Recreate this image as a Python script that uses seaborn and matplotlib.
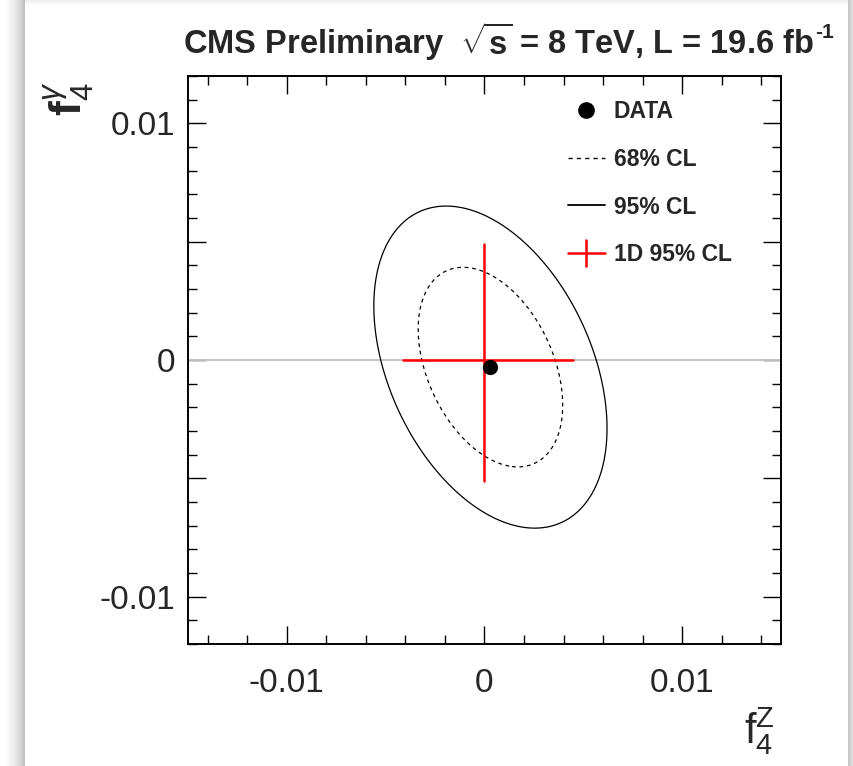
import numpy as np
import matplotlib
matplotlib.use("Agg")
import matplotlib.pyplot as plt
import seaborn as sns
from matplotlib.ticker import MultipleLocator, FuncFormatter
from matplotlib.lines import Line2D

# ---------------- data ----------------
best_fit_f4z = [0.0003]
best_fit_f4g = [-0.0003]
sigma_f4z = 0.00241          # 1-sigma width along f4Z
sigma_f4g = 0.00278          # 1-sigma width along f4gamma
corr = -0.38                 # correlation between the two couplings
cl_levels = [2.30, 5.99]     # delta chi2 for 2D 68% and 95% CL
cl_labels = ["68% CL", "95% CL"]
interval_f4z = [-0.0041, 0.0045]   # 1D 95% CL on f4Z
interval_f4g = [-0.0051, 0.0049]   # 1D 95% CL on f4gamma
x_limits = [-0.015, 0.015]
y_limits = [-0.012, 0.012]
title_main = r"CMS Preliminary  $\sqrt{\mathbf{s}}$ = 8 TeV, L = 19.6 fb"
title_sup = "-1"

# ---------------- style ----------------
sns.set_theme(style="ticks")
plt.rcParams["font.family"] = ["Liberation Sans", "DejaVu Sans"]
plt.rcParams["mathtext.fontset"] = "custom"
plt.rcParams["mathtext.rm"] = "Liberation Sans"
plt.rcParams["mathtext.it"] = "Liberation Sans:italic"
plt.rcParams["mathtext.bf"] = "Liberation Sans:bold"

W, H = 854, 766
fig = plt.figure(figsize=(W / 100, H / 100), dpi=100)
fig.patch.set_facecolor("white")

# soft card shadow like the reference screenshot
bg = fig.add_axes([0, 0, 1, 1], zorder=-10)
img = np.ones((H, W))
cols = np.arange(W)
left = np.clip(1 - 0.25 * (cols / 24.0) ** 2, 0.75, 1)
img[:, :25] = left[:25]
img[:, 848:] = np.linspace(0.78, 0.9, W - 848)
img[:6, 25:848] = np.minimum(img[:6, 25:848], np.linspace(0.93, 1.0, 6)[:, None])
bg.imshow(img, cmap="gray", vmin=0, vmax=1, aspect="auto", interpolation="bilinear")
bg.axis("off")

ax = fig.add_axes([188 / W, 1 - 644 / H, (781 - 188) / W, (644 - 76) / H])
ax.set_facecolor("white")

# zero line
ax.axhline(0, color="#c4c4c4", lw=1.4, zorder=1)

# likelihood contours (gaussian approximation)
gx = np.linspace(x_limits[0], x_limits[1], 601)
gy = np.linspace(y_limits[0], y_limits[1], 601)
GX, GY = np.meshgrid(gx, gy)
u = (GX - best_fit_f4z[0]) / sigma_f4z
v = (GY - best_fit_f4g[0]) / sigma_f4g
dchi2 = (u ** 2 - 2 * corr * u * v + v ** 2) / (1 - corr ** 2)
ax.contour(GX, GY, dchi2, levels=[cl_levels[0]], colors="black",
           linewidths=0.9, linestyles=[(0, (3, 3))], zorder=2)
ax.contour(GX, GY, dchi2, levels=[cl_levels[1]], colors="black",
           linewidths=0.9, linestyles="solid", zorder=2)

# 1D intervals
ax.plot(interval_f4z, [0, 0], color="red", lw=1.8, zorder=3)
ax.plot([0, 0], interval_f4g, color="red", lw=1.8, zorder=3)

# best fit point
sns.scatterplot(x=best_fit_f4z, y=best_fit_f4g, ax=ax, color="black",
                s=120, edgecolor="black", linewidth=0, zorder=4)

ax.set_xlim(*x_limits)
ax.set_ylim(*y_limits)

def fmt(v, pos):
    if abs(v) < 1e-9:
        return "0"
    if abs(v / 0.01 - round(v / 0.01)) < 1e-6:
        return f"{v:g}"
    return ""

ax.xaxis.set_major_locator(MultipleLocator(0.01))
ax.xaxis.set_minor_locator(MultipleLocator(0.002))
ax.yaxis.set_major_locator(MultipleLocator(0.005))
ax.yaxis.set_minor_locator(MultipleLocator(0.001))
ax.xaxis.set_major_formatter(FuncFormatter(fmt))
ax.yaxis.set_major_formatter(FuncFormatter(fmt))
ax.tick_params(which="both", direction="in", top=True, right=True,
               color="black", width=1.0)
ax.tick_params(which="major", length=13, labelsize=24)
ax.tick_params(which="minor", length=6.5)
ax.tick_params(axis="x", which="major", pad=17)
ax.tick_params(axis="y", which="major", pad=9)
for s in ax.spines.values():
    s.set_linewidth(1.4)
    s.set_color("black")
    s.set_visible(True)

# legend
handles = [
    Line2D([], [], color="black", marker="o", ls="none", markersize=11),
    Line2D([], [], color="black", lw=1.0, ls=(0, (3, 3))),
    Line2D([], [], color="black", lw=1.3),
    Line2D([], [], color="red", lw=1.8, marker="|", markersize=20, markeredgewidth=1.8),
]
labels = ["DATA"] + cl_labels + ["1D 95% CL"]
leg = ax.legend(handles, labels, loc="upper left",
                bbox_to_anchor=(568 / W, 1 - 100 / H), bbox_transform=fig.transFigure,
                frameon=False, borderpad=0, borderaxespad=0,
                handlelength=1.6, handletextpad=0.4, labelspacing=1.08,
                prop={"weight": "bold", "size": 16.5})

# titles and axis labels
t = fig.text(183 / W, 1 - 54 / H, title_main, fontsize=23.5, fontweight="bold",
             ha="left", va="baseline")
fig.canvas.draw()
bb = t.get_window_extent(renderer=fig.canvas.get_renderer())
fig.text(bb.x1 / W + 1 / W, 1 - 38 / H, title_sup, fontsize=15, fontweight="bold",
         ha="left", va="baseline")
fig.text(775 / W, 1 - 757 / H, r"$\mathrm{f}^{\mathrm{Z}}_{4}$", fontsize=30,
         ha="right", va="bottom")
fig.text(96 / W, 1 - 82 / H, r"$\mathbf{f}^{\gamma}_{4}$", fontsize=32,
         rotation=90, ha="right", va="top")

fig.savefig("out.png", dpi=100)
